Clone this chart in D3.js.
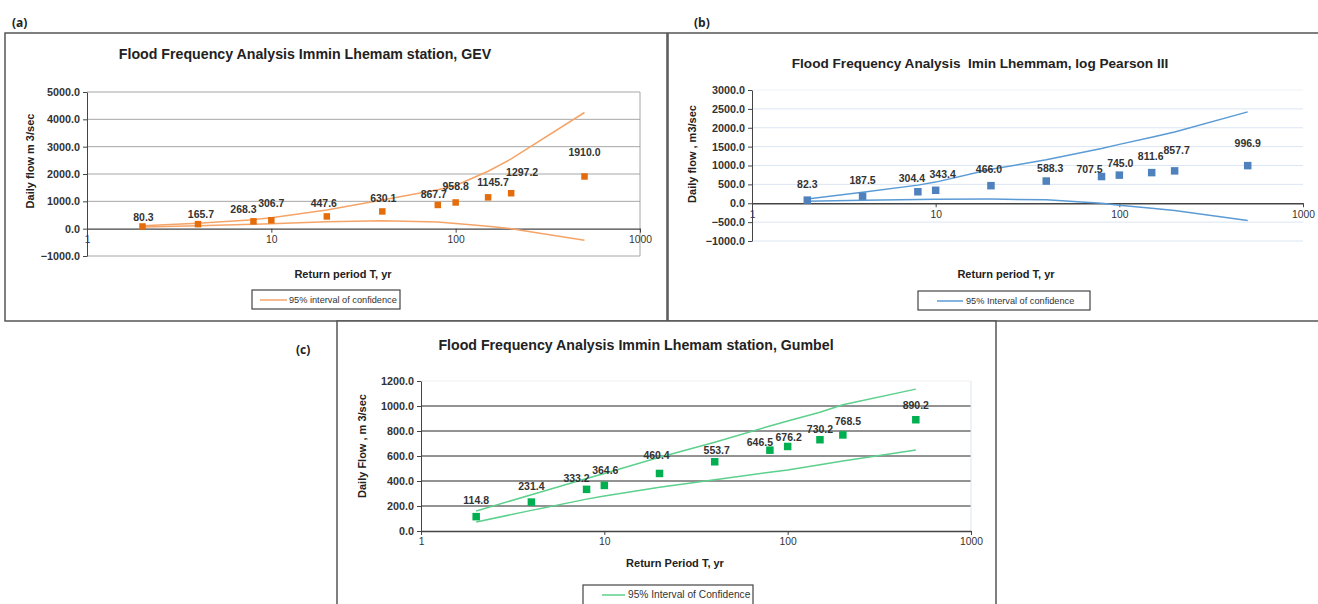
<!DOCTYPE html>
<html>
<head>
<meta charset="utf-8">
<script src="https://cdn.jsdelivr.net/npm/d3@7"></script>
<style>
  body { margin: 0; background: #fff; }
  svg { display: block; font-family: "Liberation Sans", Arial, sans-serif; }
</style>
</head>
<body>
<svg id="chart" width="1318" height="604"></svg>
<script>
// 세 가지 분포(GEV, log Pearson III, Gumbel)로 본 빈도해석 결과

// 공통 재현기간 (yr)
const returnPeriods = [2, 4, 8, 10, 20, 40, 80, 100, 150, 200, 500];
const xTicks = [1, 10, 100, 1000];

// (a) GEV
const gevFlow  = [80.3, 165.7, 268.3, 306.7, 447.6, 630.1, 867.7, 958.8, 1145.7, 1297.2, 1910.0];
const gevUpper = [110, 200, 330, 400, 680, 1050, 1420, 1580, 2100, 2550, 4250];
const gevLower = [60, 110, 160, 180, 250, 290, 240, 190, 90, 0, -420];
const gevYTicks = [-1000, 0, 1000, 2000, 3000, 4000, 5000];

// (b) log Pearson III
const lp3Flow  = [82.3, 187.5, 304.4, 343.4, 466.0, 588.3, 707.5, 745.0, 811.6, 857.7, 996.9];
const lp3Upper = [115, 290, 480, 560, 900, 1150, 1450, 1560, 1750, 1890, 2420];
const lp3Lower = [55, 80, 100, 105, 110, 90, 0, -50, -130, -195, -460];
const lp3YTicks = [-1000, -500, 0, 500, 1000, 1500, 2000, 2500, 3000];

// (c) Gumbel
const gumFlow  = [114.8, 231.4, 333.2, 364.6, 460.4, 553.7, 646.5, 676.2, 730.2, 768.5, 890.2];
const gumUpper = [160, 290, 420, 460, 590, 710, 840, 880, 950, 1010, 1135];
const gumLower = [72, 165, 255, 280, 350, 410, 470, 488, 530, 560, 648];
const gumYTicks = [0, 200, 400, 600, 800, 1000, 1200];

const svg = d3.select("#chart");

// 패널 설정 (배치와 스타일) - 라벨 위치는 원본처럼 점마다 조금씩 다르게 둠
const panels = [
  {
    tag: "(a)", tagX: 12, tagY: 27,
    box: [5, 33, 662, 288],
    plot: { left: 87, right: 640, top: 92, bottom: 256 },
    title: "Flood Frequency Analysis Immin Lhemam station, GEV", titleX: 305, titleY: 59, titleSize: 14.2,
    yTitle: "Daily flow m 3/sec", yTitleX: 34, yTitleY: 161,
    xTitle: "Return period T, yr", xTitleX: 343, xTitleY: 278,
    legend: { x: 252, y: 290, w: 148, h: 19, l1: 8, l2: 35, tx: 37, fs: 9.2, text: "95% interval of confidence" },
    flow: gevFlow, upper: gevUpper, lower: gevLower, yTicks: gevYTicks,
    marker: "#E46C0A", line: "#F5A468", mSize: 6.5,
    labelDx:   [1, 3, -10, 0, -3, 1, -4, 0, 5, 11, 0],
    labelLift: [9, 10, 12, 17, 13, 13, 11, 16, 15, 21, 24],
    grid: "#A6A6A6", topGrid: "#A6A6A6", frame: "#A6A6A6"
  },
  {
    tag: "(b)", tagX: 694, tagY: 27,
    box: [668, 33, 660, 288],
    plot: { left: 752, right: 1303, top: 90, bottom: 241 },
    title: "Flood Frequency Analysis  Imin Lhemmam, log Pearson III", titleX: 980, titleY: 68, titleSize: 13.6,
    yTitle: "Daily flow , m3/sec", yTitleX: 696, yTitleY: 154,
    xTitle: "Return period T, yr", xTitleX: 1006, xTitleY: 278,
    legend: { x: 918, y: 291, w: 172, h: 19, l1: 19, l2: 45, tx: 48, fs: 9.2, text: "95% Interval of confidence" },
    flow: lp3Flow, upper: lp3Upper, lower: lp3Lower, yTicks: lp3YTicks,
    marker: "#4F81BD", line: "#5B9BD5", mSize: 7.5,
    labelDx:   [0, 0, -6, 7, -2, 4, -12, 1, -1, 2, 0],
    labelLift: [16, 16, 14, 16, 17, 13, 8, 12, 17, 21, 23],
    grid: "#DCE6F2", topGrid: "#EEF3F9", frame: null
  },
  {
    tag: "(c)", tagX: 296, tagY: 354,
    box: [337, 321, 659, 300],
    plot: { left: 421, right: 971, top: 381, bottom: 531 },
    title: "Flood Frequency Analysis Immin Lhemam station, Gumbel", titleX: 636, titleY: 350, titleSize: 14.2,
    yTitle: "Daily Flow , m 3/sec", yTitleX: 366, yTitleY: 446,
    xTitle: "Return Period T, yr", xTitleX: 675, xTitleY: 567,
    legend: { x: 583, y: 585, w: 170, h: 30, l1: 19, l2: 42, tx: 45, fs: 10.2, text: "95% Interval of Confidence" },
    flow: gumFlow, upper: gumUpper, lower: gumLower, yTicks: gumYTicks,
    marker: "#00B050", line: "#5CD08C", mSize: 7.5,
    labelDx:   [0, 0, -10, 1, -3, 2, -10, 1, 0, 5, 0],
    labelLift: [17, 16, 11, 15, 18, 12, 8, 9, 11, 14, 15],
    grid: "#262626", topGrid: "#F0F0F0", frame: "#DCE6F2"
  }
];

function drawPanel(p) {
  const g = svg.append("g");
  const [bx, by, bw, bh] = p.box;

  // 패널 테두리
  g.append("rect")
    .attr("x", bx).attr("y", by).attr("width", bw).attr("height", bh)
    .attr("fill", "white").attr("stroke", "#555").attr("stroke-width", 1.5);

  // 패널 라벨
  svg.append("text")
    .attr("x", p.tagX).attr("y", p.tagY)
    .attr("font-family", "'Open Sans', sans-serif")
    .attr("font-weight", "bold").attr("font-size", 12)
    .attr("fill", "#222").text(p.tag);

  const yDomain = d3.extent(p.yTicks);
  const x = d3.scaleLog().domain([1, 1000]).range([p.plot.left, p.plot.right]);
  const y = d3.scaleLinear().domain(yDomain).range([p.plot.bottom, p.plot.top]);

  // 그리드 라인
  g.selectAll("line.grid")
    .data(p.yTicks.filter(v => v !== 0))
    .enter().append("line")
    .attr("class", "grid")
    .attr("x1", p.plot.left).attr("x2", p.plot.right)
    .attr("y1", d => y(d)).attr("y2", d => y(d))
    .attr("stroke", d => d === yDomain[1] ? p.topGrid : p.grid)
    .attr("stroke-width", 1);

  // 플롯 영역 오른쪽 테두리
  if (p.frame) {
    g.append("line")
      .attr("x1", p.plot.right).attr("x2", p.plot.right)
      .attr("y1", p.plot.top).attr("y2", p.plot.bottom)
      .attr("stroke", p.frame);
  }

  // Y 축
  const yAxis = g.append("g")
    .attr("transform", `translate(${p.plot.left},0)`)
    .call(d3.axisLeft(y).tickValues(p.yTicks).tickFormat(d3.format(".1f")).tickSize(4).tickSizeOuter(0));
  yAxis.select(".domain").attr("stroke", "#444");
  yAxis.selectAll(".tick line").attr("stroke", "#444");
  yAxis.selectAll("text")
    .attr("font-family", "'Liberation Sans', Arial, sans-serif")
    .attr("font-size", 10.8).attr("font-weight", "bold").attr("fill", "#333");

  // X 축 (0 위치)
  const xAxis = g.append("g")
    .attr("transform", `translate(0,${y(0)})`)
    .call(d3.axisBottom(x).tickValues(xTicks).tickFormat(d3.format("d")).tickSize(4).tickSizeOuter(0));
  xAxis.select(".domain").attr("stroke", "#444").attr("stroke-width", 1.3);
  xAxis.selectAll(".tick line").attr("stroke", "#444");
  xAxis.selectAll("text")
    .attr("font-family", "'Liberation Sans', Arial, sans-serif")
    .attr("font-size", 10.3)
    .attr("fill", d => (d === 1 && yDomain[0] < 0) ? "#3D2B6B" : "#333");

  // 신뢰구간 선
  const line = d3.line().x(d => x(d[0])).y(d => y(d[1]));
  [p.upper, p.lower].forEach(arr => {
    g.append("path")
      .datum(returnPeriods.map((t, i) => [t, arr[i]]))
      .attr("d", line)
      .attr("fill", "none")
      .attr("stroke", p.line)
      .attr("stroke-width", 1.5);
  });

  // 데이터 포인트
  const pts = returnPeriods.map((t, i) => ({ t, v: p.flow[i], i }));
  g.selectAll("rect.pt")
    .data(pts)
    .enter().append("rect")
    .attr("class", "pt")
    .attr("x", d => x(d.t) - p.mSize / 2)
    .attr("y", d => y(d.v) - p.mSize / 2)
    .attr("width", p.mSize).attr("height", p.mSize)
    .attr("fill", p.marker);

  // 데이터 라벨
  g.selectAll("text.lbl")
    .data(pts)
    .enter().append("text")
    .attr("class", "lbl")
    .attr("x", d => x(d.t) + p.labelDx[d.i])
    .attr("y", d => y(d.v) - p.labelLift[d.i] + 4)
    .attr("text-anchor", "middle")
    .attr("font-size", 10.5).attr("font-weight", "bold")
    .attr("fill", "#333")
    .text(d => d.v.toFixed(1));

  // 제목 (원본의 이중 공백 유지)
  g.append("text")
    .attr("x", p.titleX).attr("y", p.titleY)
    .attr("text-anchor", "middle")
    .style("white-space", "pre")
    .attr("font-size", p.titleSize).attr("font-weight", "bold")
    .attr("fill", "#222").text(p.title);

  // 축 제목
  g.append("text")
    .attr("transform", `translate(${p.yTitleX},${p.yTitleY}) rotate(-90)`)
    .attr("text-anchor", "middle")
    .attr("font-size", 11).attr("font-weight", "bold")
    .attr("fill", "#222").text(p.yTitle);

  g.append("text")
    .attr("x", p.xTitleX).attr("y", p.xTitleY)
    .attr("text-anchor", "middle")
    .attr("font-size", 11).attr("font-weight", "bold")
    .attr("fill", "#222").text(p.xTitle);

  // 범례
  const lg = p.legend;
  g.append("rect")
    .attr("x", lg.x).attr("y", lg.y).attr("width", lg.w).attr("height", lg.h)
    .attr("fill", "white").attr("stroke", "#444").attr("stroke-width", 1.2);
  g.append("line")
    .attr("x1", lg.x + lg.l1).attr("x2", lg.x + lg.l2)
    .attr("y1", lg.y + 10).attr("y2", lg.y + 10)
    .attr("stroke", p.line).attr("stroke-width", 1.5);
  g.append("text")
    .attr("x", lg.x + lg.tx).attr("y", lg.y + 13)
    .attr("font-size", lg.fs).attr("fill", "#333")
    .text(lg.text);
}

panels.forEach(drawPanel);
</script>
</body>
</html>
